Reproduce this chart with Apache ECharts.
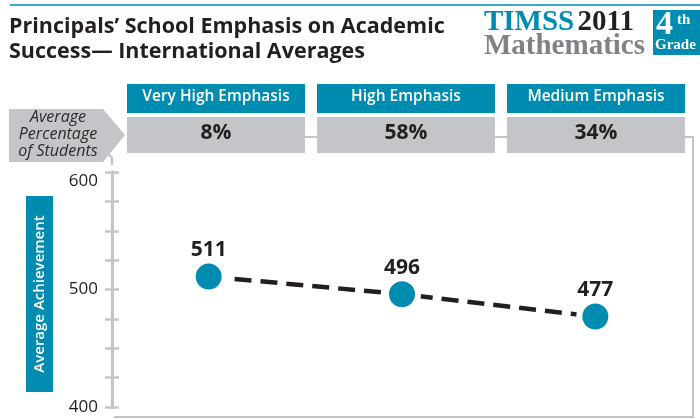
<!DOCTYPE html>
<html>
<head>
<meta charset="utf-8">
<script src="https://cdn.jsdelivr.net/npm/echarts@6/dist/echarts.min.js"></script>
<style>
html,body{margin:0;padding:0;background:#fff;}
#chart{width:700px;height:419px;}
</style>
</head>
<body>
<div id="chart"></div>
<script>
const categories = ['Very High Emphasis', 'High Emphasis', 'Medium Emphasis'];
const percentages = ['8%', '58%', '34%'];
const achievement = [511, 496, 477];
const yTickLabels = [400, 500, 600];

const TEAL = '#008bb0';
const GRAY = '#c4c5c8';
const DARK = '#231f20';
const SANS = '"Open Sans", "Noto Sans", sans-serif';
const SERIF = '"Liberation Serif", "DejaVu Serif", serif';

const boxLeft = [127, 317, 507];
const boxW = 178;

const graphics = [];
// top rule
graphics.push({type:'line', shape:{x1:10,y1:5,x2:700,y2:5}, style:{stroke:TEAL, lineWidth:1.5}});
// title
graphics.push({type:'text', left:9, top:14, style:{text:'Principals\u2019 School Emphasis on Academic\nSuccess\u2014 International Averages', font:'bold 21.5px ' + SANS, fill:DARK, lineHeight:25}});
// TIMSS logo
graphics.push({type:'text', right:55, top:8, style:{text:'{a|TIMSS} {b|2011}\n{c|Mathematics}', align:'right', rich:{
  a:{font:'bold 29px ' + SERIF, fill:TEAL, lineHeight:24},
  b:{font:'bold 29px ' + SERIF, fill:DARK, lineHeight:24},
  c:{font:'bold 29px ' + SERIF, fill:'#808285', lineHeight:24}
}}});
graphics.push({type:'rect', shape:{x:653,y:10,width:50,height:45}, style:{fill:TEAL}});
graphics.push({type:'text', x:656, y:8, style:{text:'4', font:'bold 34px ' + SERIF, fill:'#fff'}});
graphics.push({type:'text', x:677, y:13, style:{text:'th', font:'bold 15px ' + SERIF, fill:'#fff'}});
graphics.push({type:'text', x:655, y:38, style:{text:'Grade', font:'bold 15px ' + SERIF, fill:'#fff'}});

// Pentagon label
graphics.push({type:'polygon', shape:{points:[[9,109],[103,109],[125,135],[103,162],[9,162]]}, style:{fill:GRAY}});
graphics.push({type:'text', x:58, y:109, style:{text:'Average\nPercentage\nof Students', font:'italic 16px ' + SANS, fill:'#2d2a2b', align:'center', lineHeight:17}});

// connectors
graphics.push({type:'polyline', shape:{points:[[305,137],[317,137]]}, style:{stroke:GRAY, lineWidth:2}});
graphics.push({type:'polyline', shape:{points:[[495,137],[507,137]]}, style:{stroke:GRAY, lineWidth:2}});
graphics.push({type:'polyline', shape:{points:[[685,137],[693,137],[693,417],[114,417]]}, style:{stroke:GRAY, lineWidth:2, fill:null}});
graphics.push({type:'polyline', shape:{points:[[108,153],[112,158],[112,165]]}, style:{stroke:GRAY, lineWidth:2.5, fill:null}});

// header boxes
categories.forEach((c, i) => {
  const x = boxLeft[i];
  graphics.push({type:'rect', shape:{x:x, y:84, width:boxW, height:29}, style:{fill:TEAL}});
  graphics.push({type:'text', x:x + boxW/2, y:89, style:{text:c, font:'600 15.5px ' + SANS, fill:'#fff', align:'center'}});
  graphics.push({type:'rect', shape:{x:x, y:117, width:boxW, height:36}, style:{fill:GRAY}});
  graphics.push({type:'text', x:x + boxW/2, y:123, style:{text:percentages[i], font:'bold 21px ' + SANS, fill:DARK, align:'center'}});
});

// y axis title box
graphics.push({type:'rect', shape:{x:26, y:196, width:27, height:196}, style:{fill:TEAL}});
graphics.push({type:'text', x:39.5, y:294, rotation:Math.PI/2, style:{text:'Average Achievement', font:'600 15px ' + SANS, fill:'#fff', align:'center', verticalAlign:'middle'}});

const chart = echarts.init(document.getElementById('chart'), null, {renderer:'canvas'});
const yBase = {
  type:'value', min:400, max:600, interval:25,
  axisLine:{show:true, lineStyle:{color:GRAY, width:3}},
  splitLine:{show:false}
};
chart.setOption({
  animation:false,
  grid:{left:112, right:8, top:172, bottom:12},
  xAxis:{type:'category', data:categories, boundaryGap:true, show:false},
  yAxis:[
    Object.assign({}, yBase, {
      axisTick:{show:true, inside:false, length:7, lineStyle:{color:GRAY, width:2.5}},
      axisLabel:{margin:14, color:DARK, fontSize:17, fontFamily:SANS,
        formatter: v => v === 600 ? '{top|600}' : (yTickLabels.includes(v) ? String(v) : ''),
        rich:{top:{color:DARK, fontSize:17, fontFamily:SANS, padding:[18,0,0,0]}}}
    }),
    Object.assign({}, yBase, {
      position:'left',
      axisTick:{show:true, inside:true, length:7, lineStyle:{color:GRAY, width:2.5}},
      axisLabel:{show:false}
    })
  ],
  series:[{
    type:'line', data:achievement, yAxisIndex:0,
    symbol:'circle', symbolSize:32,
    itemStyle:{color:TEAL, borderColor:'#fff', borderWidth:6},
    lineStyle:{color:DARK, width:4.5, type:[17,9]},
    label:{show:true, position:'top', distance:-3, color:DARK, fontSize:21, fontWeight:'bold', fontFamily:SANS},
    z:5
  }],
  graphic:graphics
});
</script>
</body>
</html>
